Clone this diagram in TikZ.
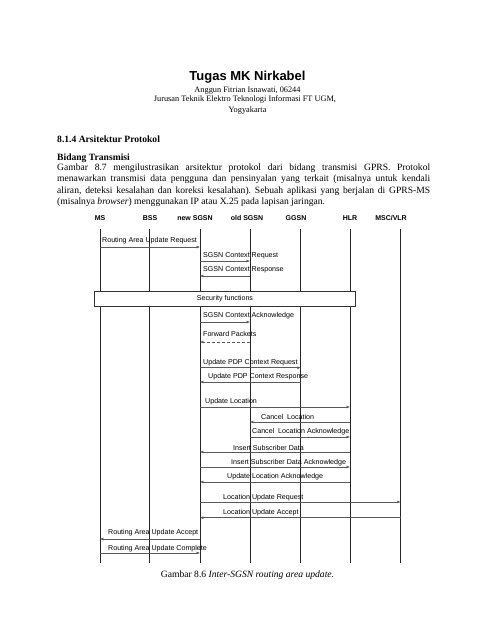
\documentclass[tikz,border=0pt]{standalone}
\usepackage{fontspec}
\setmainfont{Liberation Serif}
\newfontfamily\arialfnt{Liberation Sans}
\usetikzlibrary{arrows.meta}
\frenchspacing
\begin{document}
\begin{tikzpicture}[x=1pt,y=-1pt,
  lifeline/.style={draw=black!85, line width=0.9pt},
  msg/.style={draw=black!65, line width=0.5pt, -{Latex[length=3.4pt,width=2.8pt]}},
  lbl/.style={anchor=west, inner sep=0pt, font=\arialfnt\fontsize{7.1}{8}\selectfont},
  hdr/.style={inner sep=0pt, font=\arialfnt\bfseries\fontsize{7}{8}\selectfont},
  body/.style={anchor=base west, inner sep=0pt, font=\fontsize{9.6}{11.5}\selectfont},
  bodyb/.style={anchor=base west, inner sep=0pt, font=\bfseries\fontsize{9.6}{11.5}\selectfont},
  centre/.style={anchor=base, inner sep=0pt},
]
\useasboundingbox[fill=white] (0,0) rectangle (495,640);

% heading
\node[centre, font=\arialfnt\bfseries\fontsize{13}{15}\selectfont] (title) at (247.5,80.5) {Tugas MK Nirkabel};
\node[centre, font=\fontsize{8.3}{9}\selectfont] (auth) at (247.5,92) {Anggun Fitrian Isnawati, 06244};
\node[centre, font=\fontsize{8.3}{9}\selectfont] (jur) at (245,101.5) {Jurusan Teknik Elektro Teknologi Informasi FT UGM,};
\node[centre, font=\fontsize{8.3}{9}\selectfont] (yog) at (247.5,112.5) {Yogyakarta};

% section text
\node[bodyb] (sect) at (57,142) {8.1.4 Arsitektur Protokol};
\node[bodyb] (bid) at (57,160) {Bidang Transmisi};
\node[body] (l1) at (57,170) {\makebox[373pt][s]{Gambar 8.7 mengilustrasikan arsitektur protokol dari bidang transmisi GPRS. Protokol}};
\node[body] (l2) at (57,181.5) {\makebox[373pt][s]{menawarkan transmisi data pengguna dan pensinyalan yang terkait (misalnya untuk kendali}};
\node[body] (l3) at (57,193) {\makebox[373pt][s]{aliran, deteksi kesalahan dan koreksi kesalahan). Sebuah aplikasi yang berjalan di GPRS-MS}};
\node[body] (l4) at (57,204.5) {(misalnya \textit{browser}) menggunakan IP atau X.25 pada lapisan jaringan.};

% headers
\node[hdr] (hMS) at (100,218) {MS};
\node[hdr] (hBSS) at (150,218) {BSS};
\node[hdr] (hNew) at (195,218) {new SGSN};
\node[hdr] (hOld) at (247,218) {old SGSN};
\node[hdr] (hGGSN) at (296,218) {GGSN};
\node[hdr] (hHLR) at (350,218) {HLR};
\node[hdr] (hMSC) at (391,218) {MSC/VLR};

% lifelines
\foreach \n/\x in {MS/100,BSS/149.7,New/200,Old/250,GGSN/300.7,HLR/350,MSC/400.7}{
  \coordinate (t\n) at (\x,229);
  \coordinate (b\n) at (\x,563);
  \draw[lifeline] (t\n) -- (b\n);
}

% security functions box
\node[draw=black!80, fill=white, line width=0.5pt, minimum width=261.4pt, minimum height=15.7pt, inner sep=0pt,
      font=\arialfnt\fontsize{7.1}{8}\selectfont] (secf) at (225,298.85) {Security functions};

% messages
\draw[msg] (tMS |- 0,247) -- (tNew |- 0,247);
\node[lbl] (m1) at (102,241) {Routing Area Update Request};
\draw[msg] (tNew |- 0,261) -- (tOld |- 0,261);
\node[lbl] (m2) at (203,255.5) {SGSN Context Request};
\draw[msg] (tOld |- 0,276) -- (tNew |- 0,276);
\node[lbl] (m3) at (203,270) {SGSN Context Response};
\draw[msg] (tNew |- 0,322) -- (tOld |- 0,322);
\node[lbl] (m4) at (203,316) {SGSN Context Acknowledge};
\draw[msg, dash pattern=on 3pt off 2pt] (tOld |- 0,342) -- (tNew |- 0,342);
\node[lbl] (m5) at (203,334) {Forward Packets};
\draw[msg] (tNew |- 0,367.7) -- (tGGSN |- 0,367.7);
\node[lbl] (m6) at (203,362.7) {Update PDP Context Request};
\draw[msg] (tGGSN |- 0,382) -- (tNew |- 0,382);
\node[lbl] (m7) at (208,377) {Update PDP Context Response};
\draw[msg] (tNew |- 0,407) -- (tHLR |- 0,407);
\node[lbl] (m8) at (205,402) {Update Location};
\draw[msg] (tHLR |- 0,422) -- (tOld |- 0,422);
\node[lbl] (m9) at (261,417) {Cancel\ \ Location};
\draw[msg] (tOld |- 0,437) -- (tHLR |- 0,437);
\node[lbl] (m10) at (252,432) {Cancel\ \ Location Acknowledge};
\draw[msg] (tHLR |- 0,452) -- (tNew |- 0,452);
\node[lbl] (m11) at (233,447.5) {Insert Subscriber Data};
\draw[msg] (tNew |- 0,467) -- (tHLR |- 0,467);
\node[lbl] (m12) at (231,462.5) {Insert Subscriber Data Acknowledge};
\draw[msg] (tHLR |- 0,482) -- (tNew |- 0,482);
\node[lbl] (m13) at (227,477) {Update Location Acknowledge};
\draw[msg] (tNew |- 0,502) -- (tMSC |- 0,502);
\node[lbl] (m14) at (223,497.5) {Location Update Request};
\draw[msg] (tMSC |- 0,517.7) -- (tNew |- 0,517.7);
\node[lbl] (m15) at (223,513) {Location Update Accept};
\draw[msg] (tNew |- 0,539) -- (tMS |- 0,539);
\node[lbl] (m16) at (108,533) {Routing Area Update Accept};
\draw[msg] (tMS |- 0,553) -- (tNew |- 0,553);
\node[lbl] (m17) at (108,548.5) {Routing Area Update Complete};

% caption
\node[centre, font=\fontsize{9.6}{11.5}\selectfont] (cap) at (247.5,577) {Gambar 8.6 \textit{Inter-SGSN routing area update.}};
\end{tikzpicture}
\end{document}
